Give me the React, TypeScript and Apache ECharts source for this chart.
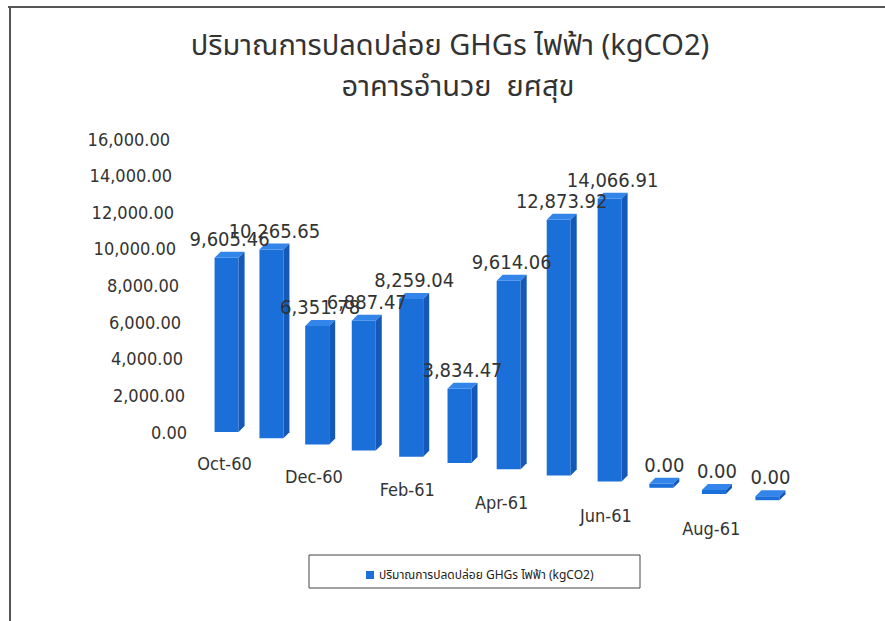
import React, { useEffect, useRef } from "react";
import * as echarts from "echarts";

const TITLE_LINE_1 = "ปริมาณการปลดปล่อย GHGs ไฟฟ้า (kgCO2)";
const TITLE_LINE_2 = "อาคารอำนวย  ยศสุข";
const SERIES_NAME = "ปริมาณการปลดปล่อย GHGs ไฟฟ้า (kgCO2)";

const months = [
  "Oct-60", "Nov-60", "Dec-60", "Jan-61", "Feb-61", "Mar-61",
  "Apr-61", "May-61", "Jun-61", "Jul-61", "Aug-61", "Sep-61",
];
const emissions = [
  9605.46, 10265.65, 6351.78, 6887.47, 8259.04, 3834.47,
  9614.06, 12873.92, 14066.91, 0, 0, 0,
];
const yMin = 0;
const yMax = 16000;
const yStep = 2000;

const NUM_FONT = "'DejaVu Sans Condensed', 'DejaVu Sans', sans-serif";
const THAI_FONT = "Tahoma, 'Noto Sans Thai', 'Noto Sans Thai UI', Loma, Garuda, 'DejaVu Sans', sans-serif";
const FRONT = "#1b6fd8";
const TOP = "#3385ea";
const SIDE = "#1458b8";
const TEXT = "#333333";

const fmt = (v: number) =>
  v.toLocaleString("en-US", { minimumFractionDigits: 2, maximumFractionDigits: 2 });

export default function App() {
  const ref = useRef<HTMLDivElement>(null);

  useEffect(() => {
    if (!ref.current) return;
    const chart = echarts.init(ref.current, null, { renderer: "svg" });

    const yRich: Record<string, any> = {};
    for (let j = 0; j <= 8; j++) {
      yRich["p" + j] = { padding: [0, Math.round(2.1 * j), 0, 0], fontSize: 18, fontFamily: NUM_FONT, color: TEXT };
    }
    const xShift = [5, 0, 14, 0, 19, 0, 23, 0, 17, 0, 10, 0];
    const xRich: Record<string, any> = {};
    for (let i = 0; i < months.length; i++) {
      xRich["q" + i] = { padding: [Math.round(6.5 * i), 2 * xShift[i], 0, 0], fontSize: 18, fontFamily: NUM_FONT, color: TEXT };
    }

    const option: any = {
      animation: false,
      backgroundColor: "#ffffff",
      title: [
        {
          text: TITLE_LINE_1,
          left: 450,
          top: 29,
          padding: 0,
          textAlign: "center",
          textStyle: { fontSize: 29, lineHeight: 34, fontWeight: "normal", color: TEXT, fontFamily: THAI_FONT },
        },
        {
          text: TITLE_LINE_2,
          left: 458,
          top: 70,
          padding: 0,
          textAlign: "center",
          textStyle: { fontSize: 29, lineHeight: 34, fontWeight: "normal", color: TEXT, fontFamily: THAI_FONT },
        },
      ],
      legend: {
        left: 361,
        top: 564,
        data: [{ name: SERIES_NAME, icon: "rect" }],
        itemWidth: 8,
        itemHeight: 8,
        itemGap: 4,
        textStyle: { fontSize: 12, color: "#222", fontFamily: THAI_FONT },
      },
      graphic: [
        { type: "line", shape: { x1: 8, y1: 7, x2: 885, y2: 7 }, style: { stroke: "#555", lineWidth: 2 } },
        { type: "line", shape: { x1: 10, y1: 6, x2: 10, y2: 621 }, style: { stroke: "#555", lineWidth: 2 } },
        { type: "rect", shape: { x: 309, y: 555, width: 331, height: 33 }, style: { fill: "none", stroke: "#444", lineWidth: 1 } },
      ],
      grid: { left: 205, top: 139, width: 590, height: 293 },
      xAxis: {
        type: "category",
        data: months,
        axisLine: { show: false },
        axisTick: { show: false },
        axisLabel: {
          interval: 1,
          margin: 22,
          formatter: (v: string, i: number) => `{q${i}|${v}}`,
          rich: xRich,
        },
      },
      yAxis: {
        type: "value",
        min: yMin,
        max: yMax,
        interval: yStep,
        axisLine: { show: false },
        axisTick: { show: false },
        splitLine: { show: false },
        axisLabel: {
          margin: 18,
          formatter: (v: number) => `{p${Math.round(v / yStep)}|${fmt(v)}}`,
          rich: yRich,
        },
      },
      series: [
        {
          name: SERIES_NAME,
          type: "custom",
          itemStyle: { color: FRONT },
          data: emissions.map((v, i) => [i, v]),
          renderItem: (params: any, api: any) => {
            const i = params.dataIndex;
            const v = api.value(1) as number;
            const base = api.coord([i, 0]);
            const top = api.coord([i, v]);
            const scale = 0.99 + 0.0135 * i;
            const h = Math.max((base[1] - top[1]) * scale, 4);
            const cx = base[0] - 0.43 * i * (11 - i);
            const by = base[1] + 6.2 * i;
            const w = 24;
            const dx = 6;
            const dy = 6;
            const x0 = cx - (w + dx) / 2;
            const ty = by - h;
            return {
              type: "group",
              children: [
                { type: "rect", shape: { x: x0, y: ty, width: w, height: h }, style: { fill: FRONT } },
                {
                  type: "polygon",
                  shape: { points: [[x0, ty], [x0 + dx, ty - dy], [x0 + w + dx, ty - dy], [x0 + w, ty]] },
                  style: { fill: TOP },
                },
                {
                  type: "polygon",
                  shape: { points: [[x0 + w, ty], [x0 + w + dx, ty - dy], [x0 + w + dx, by - dy], [x0 + w, by]] },
                  style: { fill: SIDE },
                },
                {
                  type: "text",
                  z2: 100,
                  style: {
                    text: fmt(v),
                    x: cx,
                    y: ty - dy - 3,
                    align: "center",
                    verticalAlign: "bottom",
                    fontSize: 20,
                    fontFamily: NUM_FONT,
                    fill: TEXT,
                  },
                },
              ],
            };
          },
        },
      ],
    };

    chart.setOption(option);
    return () => chart.dispose();
  }, []);

  return (
    <div
      ref={ref}
      style={{ position: "absolute", left: 0, top: 0, width: 885, height: 621, background: "#fff" }}
    />
  );
}
